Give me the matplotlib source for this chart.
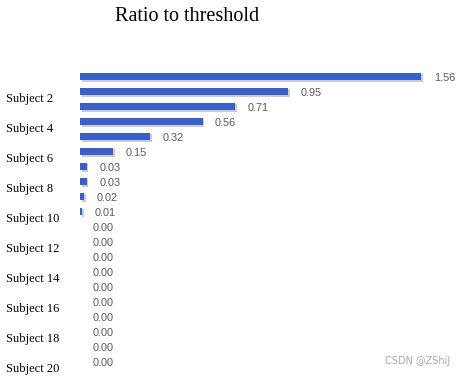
import matplotlib.pyplot as plt
import matplotlib.patheffects as pe
import numpy as np

# data
subjects = ["Subject %d" % i for i in range(1, 21)]
ratios = [1.56, 0.95, 0.71, 0.56, 0.32, 0.15, 0.03, 0.03, 0.02, 0.01,
          0.00, 0.00, 0.00, 0.00, 0.00, 0.00, 0.00, 0.00, 0.00, 0.00]
bar_color = '#3a5fc8'

fig = plt.figure(figsize=(4.63, 3.77), dpi=100)
ax = fig.add_axes([0.173, 0.022, 0.81, 0.795])

y = np.arange(len(subjects))
bars = ax.barh(y, ratios, height=0.5, color=bar_color,
               path_effects=[pe.SimplePatchShadow(offset=(1.2, -1.2), shadow_rgbFace='#999999', alpha=0.5),
                             pe.Normal()])

for yi, v in zip(y, ratios):
    ax.annotate("%.2f" % v, xy=(v, yi), xytext=(9, -1), textcoords='offset points',
                va='center', ha='left', fontsize=7.8, color='#595959', family='Liberation Sans')

ax.set_xlim(0, 1.715)
ax.set_ylim(len(subjects) - 0.5, -0.5)

# only every second subject is labelled, slightly below its bar
ax.set_yticks(y[1::2] + 0.4)
ax.set_yticklabels(subjects[1::2], family='Liberation Serif', fontsize=9)
for lab in ax.get_yticklabels():
    lab.set_horizontalalignment('left')
ax.tick_params(axis='y', length=0, pad=53)
ax.set_xticks([])
for s in ax.spines.values():
    s.set_visible(False)

fig.text(0.405, 0.957, "Ratio to threshold", family='Liberation Serif', fontsize=14.5,
         ha='center', va='center')
fig.text(0.973, 0.042, "CSDN @ZShiJ", fontsize=7, color='#aaaaaa', ha='right', va='center')

fig.savefig('out.png', dpi=100)
